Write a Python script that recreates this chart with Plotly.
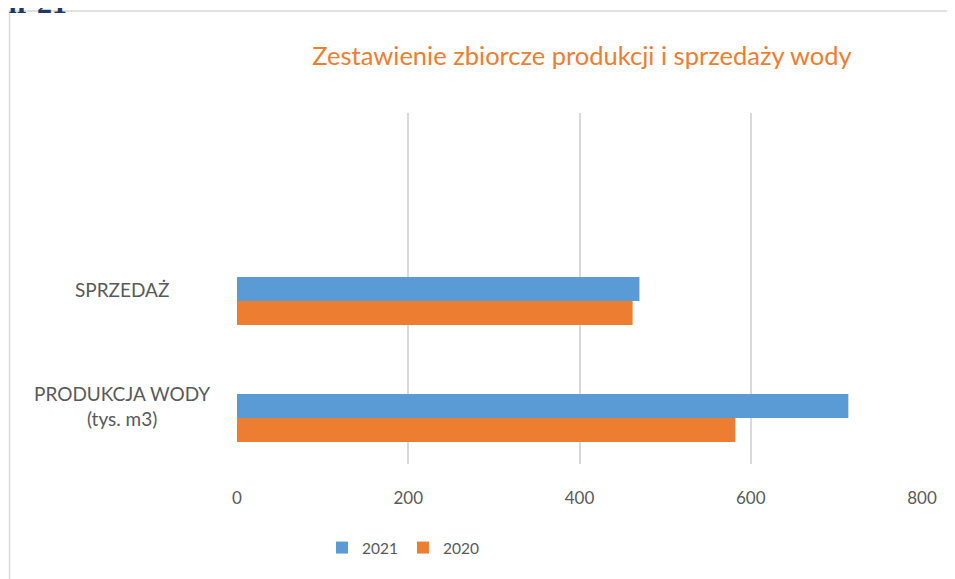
import plotly.graph_objects as go

categories = ["PRODUKCJA WODY<br>(tys. m3)", "SPRZEDAŻ"]
years = ["2020", "2021"]
values_2020 = [582, 462]
values_2021 = [714, 470]
x_ticks = [0, 200, 400, 600, 800]
title_text = "Zestawienie zbiorcze produkcji i sprzedaży wody"

BLUE = "#5B9BD5"
ORANGE = "#ED7D31"
GRID = "#D9D9D9"
TXT = "#595959"
FONT = "Lato, 'Open Sans', sans-serif"

OFF = 8  # page body margin
W, H = 955 - OFF, 579 - OFF
L, R, T, B = 237 - OFF, 922 - OFF, 113 - OFF, 464 - OFF  # plot area in figure pixels

def px_x(p):  # p in page pixels
    return (p - OFF - L) / (R - L)

def px_y(p):
    return (B - (p - OFF)) / (B - T)

fig = go.Figure()
fig.add_trace(go.Bar(y=categories, x=values_2020, name=years[0], orientation="h",
                     marker=dict(color=ORANGE, line=dict(width=0))))
fig.add_trace(go.Bar(y=categories, x=values_2021, name=years[1], orientation="h",
                     marker=dict(color=BLUE, line=dict(width=0))))

annotations = []
for i, c in enumerate(categories):
    annotations.append(dict(text=c, xref="paper", yref="y", x=px_x(122), y=i,
                            xanchor="center", yanchor="middle", align="center",
                            yshift=12, showarrow=False,
                            font=dict(family=FONT, size=19, color=TXT)))
annotations.append(dict(text="<b>nr 21</b>", xref="paper", yref="paper",
                        x=px_x(-2), y=px_y(21), xanchor="left", yanchor="bottom",
                        showarrow=False,
                        font=dict(family="'Liberation Serif', serif", size=30, color="#1F3864")))

fig.update_layout(
    width=W, height=H,
    margin=dict(l=L, r=W - R, t=T, b=H - B, pad=0),
    paper_bgcolor="white", plot_bgcolor="white",
    title=dict(text=title_text, x=(582 - OFF) / W, xanchor="center", xref="container",
               y=1 - (56 - OFF) / H, yanchor="middle", yref="container",
               font=dict(family=FONT, size=25.5, color=ORANGE)),
    barmode="group", bargap=0.59, bargroupgap=0,
    showlegend=True,
    legend=dict(orientation="h", traceorder="reversed", x=px_x(322), xanchor="left",
                y=px_y(548), yanchor="middle", font=dict(family=FONT, size=15.5, color=TXT),
                itemwidth=30),
    xaxis=dict(range=[0, 800], tickvals=x_ticks, showgrid=True, gridcolor=GRID, gridwidth=1.5,
               zeroline=False, showline=False, ticks="", ticklabelstandoff=22,
               tickfont=dict(family=FONT, size=17, color=TXT), fixedrange=True),
    yaxis=dict(type="category", categoryarray=categories, range=[-0.393, 2.607],
               showticklabels=False, showgrid=False, zeroline=False, showline=False,
               ticks="", fixedrange=True),
    annotations=annotations,
    shapes=[dict(type="rect", xref="paper", yref="paper", x0=px_x(9.5), x1=px_x(1000),
                 y0=px_y(650), y1=px_y(11), line=dict(color=GRID, width=1.5),
                 fillcolor="rgba(0,0,0,0)", layer="below")],
)

fig.write_html("out.html")
